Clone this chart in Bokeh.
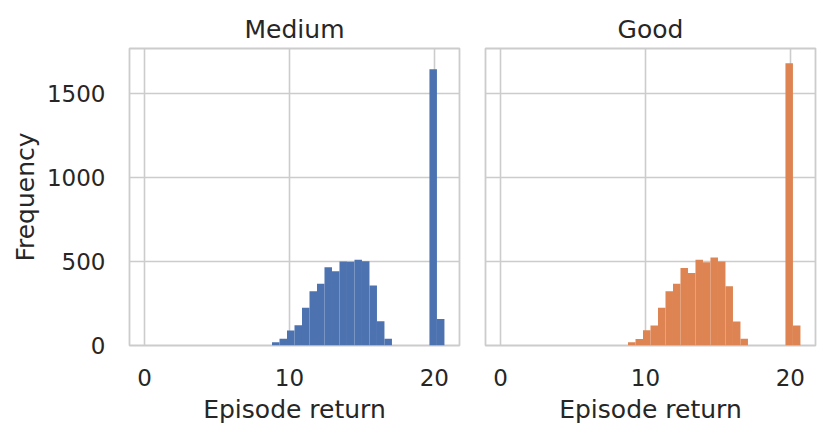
import numpy as np
from bokeh.plotting import figure
from bokeh.layouts import row
from bokeh.models import FixedTicker, Range1d, ColumnDataSource
from bokeh.embed import file_html
from bokeh.resources import INLINE

# ---- data ----
panel_titles = ["Medium", "Good"]
bin_min = 0.0
bin_max = 20.7
n_bins = 40
medium_counts = [0, 0, 0, 0, 0, 0, 0, 0, 0, 0, 0, 0, 0, 0, 0, 0, 0,
                 20, 40, 89, 121, 224, 323, 367, 466, 442, 500, 499, 510, 502, 357, 145, 40,
                 0, 0, 0, 0, 0, 1645, 158]
good_counts = [0, 0, 0, 0, 0, 0, 0, 0, 0, 0, 0, 0, 0, 0, 0, 0, 0,
               20, 38, 91, 119, 224, 323, 367, 462, 431, 510, 496, 524, 500, 353, 143, 40,
               0, 0, 0, 0, 0, 1680, 119]
x_ticks = [0, 10, 20]
y_ticks = [0, 500, 1000, 1500]
colors = ["#4C72B0", "#DD8452"]

edges = np.linspace(bin_min, bin_max, n_bins + 1)
TXT = "#262626"
GRID = "#cccccc"
FONT = "DejaVu Sans"


def make_panel(title, counts, color, show_y, mb_left, mb_right):
    p = figure(frame_width=330, frame_height=297,
               x_range=Range1d(-1.04, 21.74), y_range=Range1d(0, 1768),
               output_backend="svg", toolbar_location=None, title=title,
               min_border_left=mb_left, min_border_right=mb_right,
               min_border_top=48, min_border_bottom=85)
    src = ColumnDataSource(dict(left=edges[:-1], right=edges[1:], top=counts,
                                bottom=[0] * len(counts)))
    p.quad(left="left", right="right", top="top", bottom="bottom", source=src,
           fill_color=color, line_color=None)
    p.background_fill_color = "white"
    p.border_fill_color = "white"
    p.outline_line_color = GRID
    p.outline_line_width = 1.8
    p.title.text_font = FONT
    p.title.text_font_size = "25px"
    p.title.text_font_style = "normal"
    p.title.text_color = TXT
    p.title.align = "center"
    p.title.standoff = 10
    for ax in (p.xaxis, p.yaxis):
        ax.axis_line_color = None
        ax.major_tick_line_color = None
        ax.minor_tick_line_color = None
        ax.major_tick_out = 0
        ax.major_tick_in = 0
        ax.major_label_text_font = FONT
        ax.major_label_text_font_size = "23px"
        ax.major_label_text_color = TXT
        ax.axis_label_text_font = FONT
        ax.axis_label_text_font_size = "25px"
        ax.axis_label_text_font_style = "normal"
        ax.axis_label_text_color = TXT
    p.xaxis.ticker = FixedTicker(ticks=x_ticks)
    p.yaxis.ticker = FixedTicker(ticks=y_ticks)
    p.xaxis.axis_label = "Episode return"
    p.xaxis.major_label_standoff = 23
    p.xaxis.axis_label_standoff = 6
    p.yaxis.major_label_standoff = 24
    p.yaxis.axis_label_standoff = 4
    if show_y:
        p.yaxis.axis_label = "Frequency"
    else:
        p.yaxis.visible = False
    p.xgrid.grid_line_color = GRID
    p.xgrid.grid_line_width = 1.6
    p.ygrid.grid_line_color = GRID
    p.ygrid.grid_line_width = 1.6
    return p


p1 = make_panel(panel_titles[0], medium_counts, colors[0], True, 129, 10)
p2 = make_panel(panel_titles[1], good_counts, colors[1], False, 16, 6)
p = row(p1, p2)

open("out.html", "w").write(file_html(p, INLINE))
